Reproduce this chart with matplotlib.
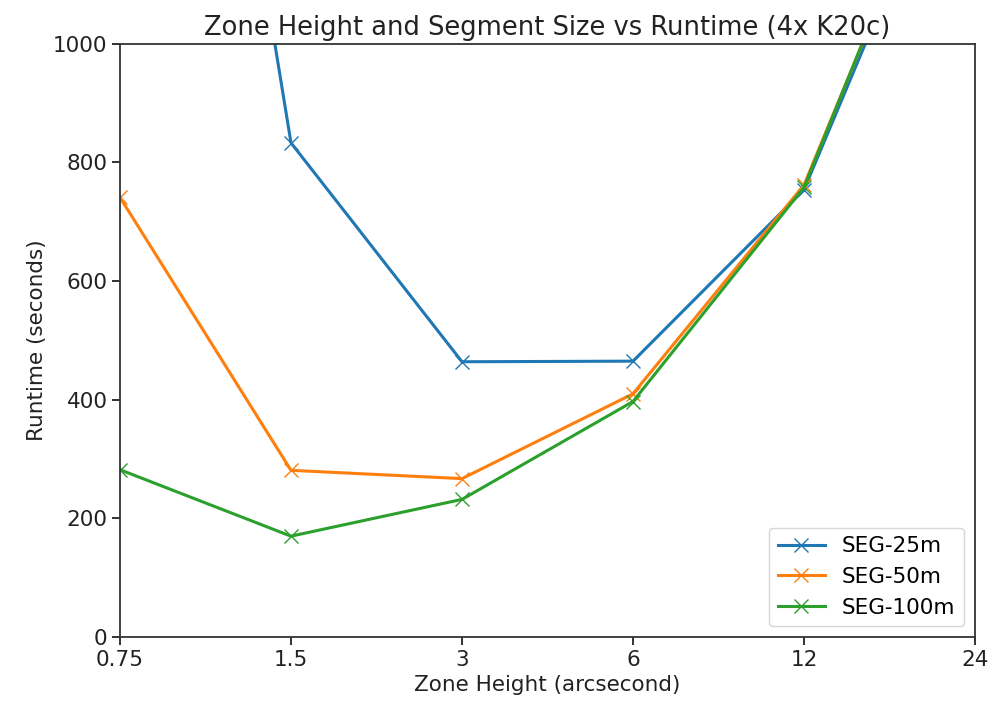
import matplotlib
matplotlib.use("Agg")
import matplotlib.pyplot as plt
from matplotlib.ticker import FixedLocator, FixedFormatter, NullLocator

zone_height = [0.75, 1.5, 3, 6, 12, 24]
tick_labels = ['0.75', '1.5', '3', '6', '12', '24']
seg_25m = [2600, 833, 464, 465, 754, 1440]
seg_50m = [741, 281, 267, 410, 762, 1460]
seg_100m = [282, 170, 232, 397, 758, 1470]

fig = plt.figure(figsize=(10, 7.06), dpi=100)
ax = fig.add_axes([0.12, 0.0977, 0.855, 0.8403])

ax.plot(zone_height, seg_25m, marker='x', markersize=10, linewidth=2.2, label='SEG-25m')
ax.plot(zone_height, seg_50m, marker='x', markersize=10, linewidth=2.2, label='SEG-50m')
ax.plot(zone_height, seg_100m, marker='x', markersize=10, linewidth=2.2, label='SEG-100m')

ax.set_xscale('log', base=2)
ax.xaxis.set_major_locator(FixedLocator(zone_height))
ax.xaxis.set_major_formatter(FixedFormatter(tick_labels))
ax.xaxis.set_minor_locator(NullLocator())
ax.set_xlim(0.75, 24)
ax.set_ylim(0, 1000)
ax.set_yticks([0, 200, 400, 600, 800, 1000])

ax.tick_params(labelsize=15.5, length=5.5, width=1.3, colors='#222222')
for s in ax.spines.values():
    s.set_linewidth(1.3)
    s.set_color('#333333')

ax.set_title('Zone Height and Segment Size vs Runtime (4x K20c)', fontsize=18.5, color='#222222')
ax.set_xlabel('Zone Height (arcsecond)', fontsize=15.5, color='#222222')
ax.set_ylabel('Runtime (seconds)', fontsize=15.5, color='#222222')
ax.legend(loc='lower right', fontsize=15.5, handlelength=2.2)

fig.savefig('out.png')
